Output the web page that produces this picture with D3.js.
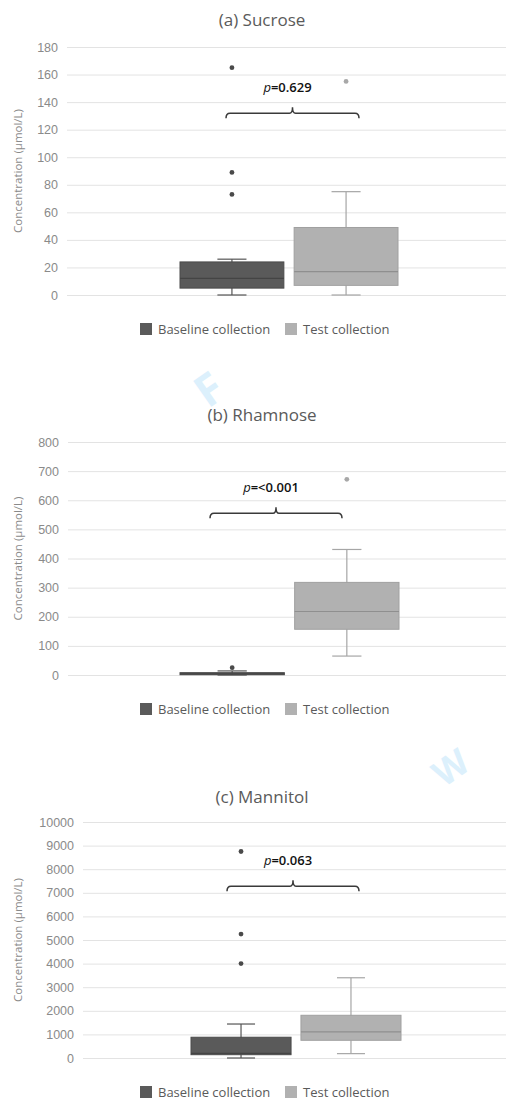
<!DOCTYPE html>
<head>
<meta charset="utf-8">
<title>Sugar concentrations</title>
<style>
body {
  margin: 0;
  background: #fff;
  font-family: "Open Sans", sans-serif;
}
.grid line { stroke: #e3e3e3; }
.axis text { fill: #8a8a8a; font-size: 12.5px; }
</style>
<script src="https://d3js.org/d3.v7.min.js"></script>
</head>
<body>
<script>
// data
var categories = ["Baseline collection", "Test collection"];
var panelTitles = ["(a) Sucrose", "(b) Rhamnose", "(c) Mannitol"];
var yMaxes = [180, 800, 10000];
var yTickSteps = [20, 100, 1000];
var pValues = ["0.629", "<0.001", "0.063"];
var bracketValues = [132, 555, 7280]; // height of the bracket, in data units

// box stats: [min, q1, median, q3, max]
var sucroseBaseline = [0, 5, 12, 24, 26];
var sucroseBaselineOut = [73, 89, 165];
var sucroseTest = [0, 7, 17, 49, 75];
var sucroseTestOut = [155];

var rhamnoseBaseline = [0, 1, 4, 8, 14];
var rhamnoseBaselineOut = [25];
var rhamnoseTest = [65, 157, 218, 318, 431];
var rhamnoseTestOut = [672];

var mannitolBaseline = [0, 140, 200, 880, 1440];
var mannitolBaselineOut = [4000, 5250, 8750];
var mannitolTest = [185, 750, 1110, 1810, 3400];
var mannitolTestOut = [];

var boxStats = [
  [sucroseBaseline, sucroseTest],
  [rhamnoseBaseline, rhamnoseTest],
  [mannitolBaseline, mannitolTest]
];
var outliers = [
  [sucroseBaselineOut, sucroseTestOut],
  [rhamnoseBaselineOut, rhamnoseTestOut],
  [mannitolBaselineOut, mannitolTestOut]
];

// layout for each panel (pixels)
var layout = [
  { titleY: 26, top: 47, bottom: 295, left: 67, boxes: [180, 398], legendY: 329, bx: [226, 359] },
  { titleY: 421, top: 442, bottom: 675, left: 68, boxes: [180, 399], legendY: 709, bx: [210, 342] },
  { titleY: 803, top: 822, bottom: 1058, left: 83, boxes: [191, 401], legendY: 1092, bx: [227, 359] }
];
var right = 506;

var fills = ["#5a5a5a", "#b1b1b1"],
    strokes = ["#4a4a4a", "#a0a0a0"],
    medians = ["#444", "#8f8f8f"],
    whiskers = ["#555", "#a6a6a6"],
    dots = ["#4a4a4a", "#a8a8a8"];

var svg = d3.select("body").append("svg")
    .attr("width", 512)
    .attr("height", 1100);

// faint watermark strokes
svg.append("text")
    .attr("transform", "translate(218,402) rotate(-35)")
    .attr("text-anchor", "middle")
    .style("font-size", "44px")
    .style("font-weight", "bold")
    .style("fill", "#dcf0fc")
    .text("F");
svg.append("text")
    .attr("transform", "translate(458,778) rotate(-35)")
    .attr("text-anchor", "middle")
    .style("font-size", "36px")
    .style("font-weight", "bold")
    .style("fill", "#dcf0fc")
    .text("W");

layout.forEach(function(L, i) {
  var g = svg.append("g");

  var y = d3.scaleLinear()
      .domain([0, yMaxes[i]])
      .range([L.bottom, L.top]);

  var x = d3.scaleBand()
      .domain(categories)
      .range(L.boxes)
      .paddingInner(0.09);

  var ticks = d3.range(0, yMaxes[i] + 1, yTickSteps[i]);

  // title
  g.append("text")
      .attr("x", 262)
      .attr("y", L.titleY)
      .attr("text-anchor", "middle")
      .style("font-size", "17px")
      .style("fill", "#5a5a5a")
      .text(panelTitles[i]);

  // grid lines
  g.append("g")
      .attr("class", "grid")
      .attr("transform", "translate(" + L.left + ",0)")
      .call(d3.axisLeft(y).tickValues(ticks).tickSize(-(right - L.left)).tickFormat(""))
      .call(function(s) { s.select(".domain").remove(); });

  // y axis labels
  g.append("g")
      .attr("class", "axis")
      .attr("transform", "translate(" + (L.left - 3) + ",0)")
      .call(d3.axisLeft(y).tickValues(ticks).tickSize(0).tickPadding(6).tickFormat(d3.format("d")))
      .call(function(s) { s.select(".domain").remove(); });

  // y axis title
  g.append("text")
      .attr("transform", "translate(22," + ((L.top + L.bottom) / 2) + ") rotate(-90)")
      .attr("text-anchor", "middle")
      .style("font-size", "11.5px")
      .style("fill", "#8a8a8a")
      .text("Concentration (\u00b5mol/L)");

  // boxes
  categories.forEach(function(c, j) {
    var s = boxStats[i][j],
        x0 = x(c),
        bw = x.bandwidth(),
        cx = x0 + bw / 2,
        cap = bw * 0.28;

    // whiskers
    g.append("line")
        .attr("x1", cx).attr("x2", cx)
        .attr("y1", y(s[0])).attr("y2", y(s[4]))
        .style("stroke", whiskers[j]).style("stroke-width", 1.2);
    [s[0], s[4]].forEach(function(v) {
      g.append("line")
          .attr("x1", cx - cap / 2).attr("x2", cx + cap / 2)
          .attr("y1", y(v)).attr("y2", y(v))
          .style("stroke", whiskers[j]).style("stroke-width", 1.2);
    });

    g.append("rect")
        .attr("x", x0)
        .attr("width", bw)
        .attr("y", y(s[3]))
        .attr("height", Math.max(y(s[1]) - y(s[3]), 1.5))
        .style("fill", fills[j])
        .style("stroke", strokes[j])
        .style("stroke-width", 1);

    g.append("line")
        .attr("x1", x0).attr("x2", x0 + bw)
        .attr("y1", y(s[2])).attr("y2", y(s[2]))
        .style("stroke", medians[j]).style("stroke-width", 1.2);

    g.selectAll(".out" + j)
        .data(outliers[i][j])
        .enter().append("circle")
        .attr("cx", cx)
        .attr("cy", function(d) { return y(d); })
        .attr("r", 2.4)
        .style("fill", dots[j]);
  });

  // bracket and p value
  var by = y(bracketValues[i]),
      bx0 = L.bx[0], bx1 = L.bx[1],
      bc = (bx0 + bx1) / 2;
  g.append("path")
      .attr("d", "M" + bx0 + "," + (by + 5) +
        " Q" + bx0 + "," + by + " " + (bx0 + 4) + "," + by +
        " L" + (bc - 3) + "," + by +
        " Q" + bc + "," + by + " " + bc + "," + (by - 6) +
        " Q" + bc + "," + by + " " + (bc + 3) + "," + by +
        " L" + (bx1 - 4) + "," + by +
        " Q" + bx1 + "," + by + " " + bx1 + "," + (by + 5))
      .style("fill", "none")
      .style("stroke", "#3a3a3a")
      .style("stroke-width", 1.5);

  var pt = g.append("text")
      .attr("x", bc - 5)
      .attr("y", by - 21)
      .attr("text-anchor", "middle")
      .style("font-size", "13px")
      .style("font-weight", "600")
      .style("fill", "#111");
  pt.append("tspan").style("font-style", "italic").style("font-weight", "normal").text("p");
  pt.append("tspan").text("=" + pValues[i]);

  // legend
  var lg = g.append("g").attr("transform", "translate(0," + L.legendY + ")");
  var lx = [140, 285];
  categories.forEach(function(c, j) {
    lg.append("rect")
        .attr("x", lx[j]).attr("y", -6)
        .attr("width", 12).attr("height", 12)
        .style("fill", fills[j]);
    lg.append("text")
        .attr("x", lx[j] + 18).attr("y", 4.5)
        .style("font-size", "13px")
        .style("fill", "#5a5a5a")
        .text(c);
  });
});
</script>
</body>
